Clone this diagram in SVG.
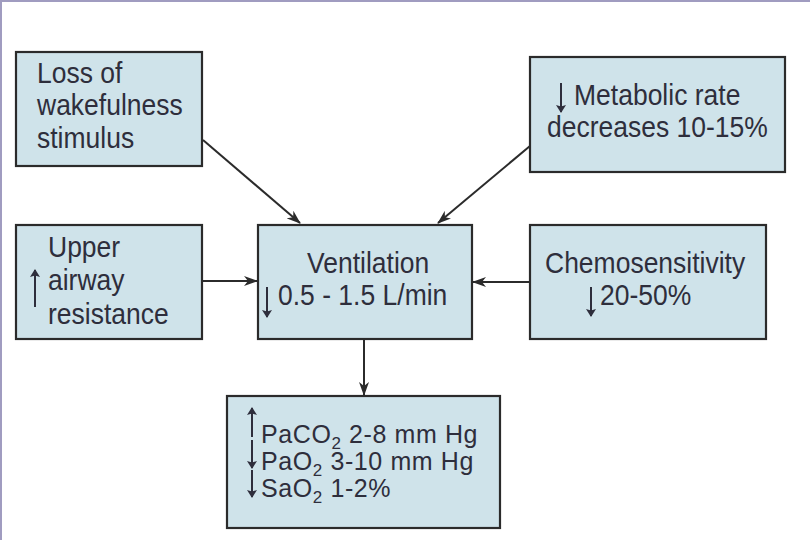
<svg xmlns="http://www.w3.org/2000/svg" width="810" height="540" viewBox="0 0 810 540">
<defs>
<style>
.box{fill:#cfe3ea;stroke:#2b2b2b;stroke-width:2.2}
.t{font-family:"Liberation Sans",Arial,sans-serif;font-size:26.5px;fill:#2e2e3c}
.b{font-family:"Liberation Sans",Arial,sans-serif;font-size:25px;fill:#2e2e3c;letter-spacing:0.6px}
.sub{font-size:17px}
.conn{stroke:#2b2b2b;stroke-width:2;fill:none}
.ta{stroke:#2e2e3c;stroke-width:2;fill:none}
</style>
<marker id="ah" viewBox="0 0 14 10" refX="13" refY="5" markerWidth="14" markerHeight="10" markerUnits="userSpaceOnUse" orient="auto">
<path d="M0,0 L14,5 L0,10 L4,5 Z" fill="#2b2b2b"/>
</marker>
<marker id="sa" viewBox="0 0 8 12" refX="7" refY="6" markerWidth="8" markerHeight="12" markerUnits="userSpaceOnUse" orient="auto">
<path d="M0,1 L8,6 L0,11 L1.5,6 Z" fill="#2e2e3c"/>
</marker>
</defs>
<rect x="0" y="0" width="810" height="540" fill="#ffffff"/>
<path d="M1,540 L1,1 L810,1" stroke="#a09cc0" stroke-width="2" fill="none"/>

<g id="connectors">
<line class="conn" x1="203" y1="140" x2="300" y2="223" marker-end="url(#ah)"/>
<line class="conn" x1="530" y1="146" x2="438" y2="223" marker-end="url(#ah)"/>
<line class="conn" x1="203" y1="281" x2="257" y2="281" marker-end="url(#ah)"/>
<line class="conn" x1="530" y1="282" x2="473" y2="282" marker-end="url(#ah)"/>
<line class="conn" x1="364" y1="340" x2="364" y2="395" marker-end="url(#ah)"/>
</g>

<g id="loss-of-wakefulness">
<rect class="box" x="16" y="52" width="186" height="114"/>
<text class="t" transform="translate(37,83) scale(1,1.12)">Loss of</text>
<text class="t" transform="translate(37,115) scale(1,1.12)">wakefulness</text>
<text class="t" transform="translate(37,148) scale(1,1.12)">stimulus</text>
</g>

<g id="metabolic-rate">
<rect class="box" x="530" y="57" width="255" height="115"/>
<line class="ta" x1="561" y1="83" x2="561" y2="112" marker-end="url(#sa)"/>
<text class="t" transform="translate(574,105) scale(1,1.12)">Metabolic rate</text>
<text class="t" transform="translate(547,137) scale(1,1.12)">decreases 10-15%</text>
</g>

<g id="upper-airway">
<rect class="box" x="16" y="225" width="186" height="114"/>
<line class="ta" x1="35" y1="307" x2="35" y2="270" marker-end="url(#sa)"/>
<text class="t" transform="translate(48,257) scale(1,1.12)">Upper</text>
<text class="t" transform="translate(48,290) scale(1,1.12)">airway</text>
<text class="t" transform="translate(48,324) scale(1,1.12)">resistance</text>
</g>

<g id="ventilation">
<rect class="box" x="258" y="225" width="214" height="114"/>
<text class="t" transform="translate(307,273) scale(1,1.12)">Ventilation</text>
<line class="ta" x1="267" y1="287" x2="267" y2="317" marker-end="url(#sa)"/>
<text class="t" transform="translate(278,305) scale(1,1.12)">0.5 - 1.5 L/min</text>
</g>

<g id="chemosensitivity">
<rect class="box" x="530" y="225" width="236" height="114"/>
<text class="t" transform="translate(545,273) scale(1,1.12)">Chemosensitivity</text>
<line class="ta" x1="591" y1="287" x2="591" y2="316" marker-end="url(#sa)"/>
<text class="t" transform="translate(600,305) scale(1,1.12)">20-50%</text>
</g>

<g id="blood-gases">
<rect class="box" x="227" y="396" width="273" height="132"/>
<line class="ta" x1="252" y1="437" x2="252" y2="408" marker-end="url(#sa)"/>
<text class="b" x="261" y="443">PaCO<tspan class="sub" dy="6">2</tspan><tspan dy="-6"> 2-8 mm Hg</tspan></text>
<line class="ta" x1="252" y1="440" x2="252" y2="468" marker-end="url(#sa)"/>
<text class="b" x="261" y="470">PaO<tspan class="sub" dy="6">2</tspan><tspan dy="-6"> 3-10 mm Hg</tspan></text>
<line class="ta" x1="252" y1="470" x2="252" y2="497" marker-end="url(#sa)"/>
<text class="b" x="261" y="497">SaO<tspan class="sub" dy="6">2</tspan><tspan dy="-6"> 1-2%</tspan></text>
</g>
</svg>
